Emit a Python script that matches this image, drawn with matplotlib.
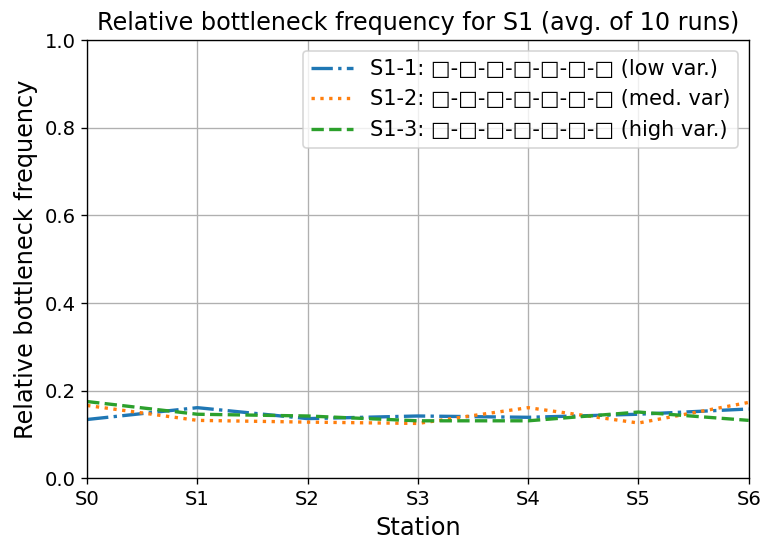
import numpy as np
import matplotlib
matplotlib.use('Agg')
import matplotlib.pyplot as plt

stations = ['S0', 'S1', 'S2', 'S3', 'S4', 'S5', 'S6']
s1_1 = [0.134, 0.161, 0.136, 0.142, 0.139, 0.146, 0.158]
s1_2 = [0.166, 0.132, 0.128, 0.125, 0.161, 0.126, 0.173]
s1_3 = [0.175, 0.146, 0.142, 0.131, 0.131, 0.151, 0.132]
labels = ['S1-1: □-□-□-□-□-□-□ (low var.)',
          'S1-2: □-□-□-□-□-□-□ (med. var)',
          'S1-3: □-□-□-□-□-□-□ (high var.)']

fig = plt.figure(figsize=(764 / 120, 544 / 120), dpi=120)
ax = fig.add_axes([0.114, 0.121, 0.866, 0.805])

x = np.arange(len(stations))
ax.plot(x, s1_1, linestyle='-.', color='tab:blue', linewidth=2, label=labels[0])
ax.plot(x, s1_2, linestyle=':', color='tab:orange', linewidth=2, label=labels[1])
ax.plot(x, s1_3, linestyle='--', color='tab:green', linewidth=2, label=labels[2])

ax.set_xticks(x)
ax.set_xticklabels(stations)
ax.set_xlim(0, 6)
ax.set_ylim(0, 1.0)
ax.tick_params(labelsize=11.8)
ax.grid(True)
ax.set_xlabel('Station', fontsize=14.4)
ax.set_ylabel('Relative bottleneck frequency', fontsize=14.4)
ax.set_title('Relative bottleneck frequency for S1 (avg. of 10 runs)', fontsize=14.3)
ax.legend(loc='upper right', fontsize=12.5)

fig.savefig('out.png', dpi=120)
